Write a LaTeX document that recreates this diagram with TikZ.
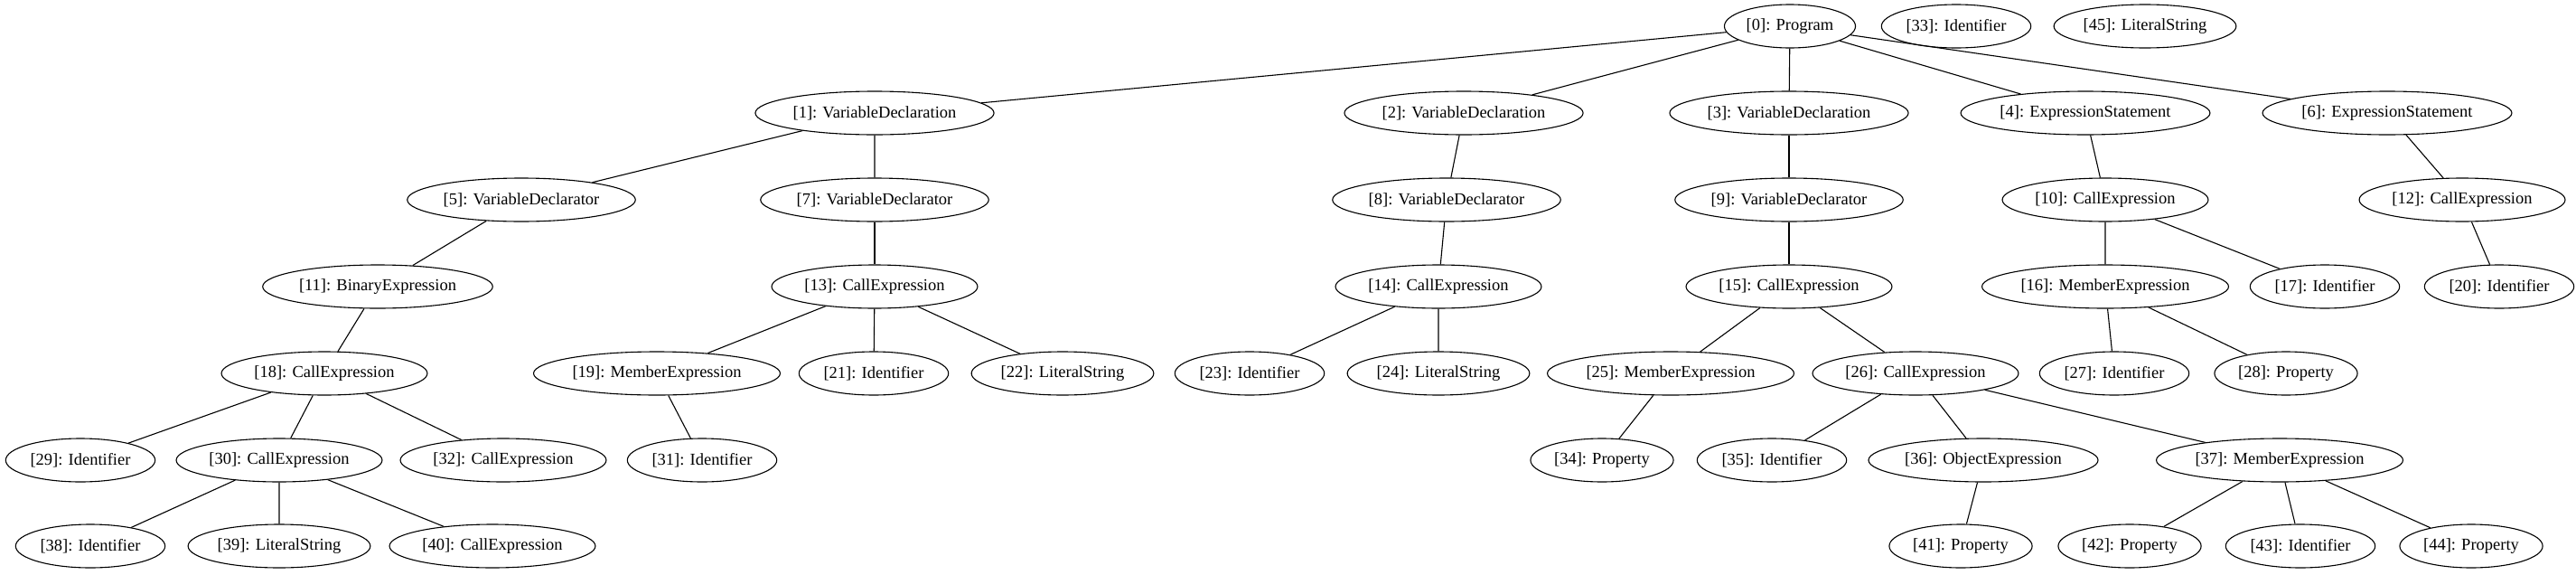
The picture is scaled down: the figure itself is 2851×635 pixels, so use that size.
\documentclass[tikz,border=0pt]{standalone}
\usepackage{fontspec}
\setmainfont{Liberation Serif}
\usetikzlibrary{shapes.geometric}

\begin{document}
\begin{tikzpicture}[
    x=1pt, y=-1pt,
    astnode/.style={ellipse, draw=black, line width=1.1pt, inner xsep=3pt, inner ysep=0pt, minimum height=48pt, font=\fontsize{18.5}{22}\selectfont},
    edge/.style={line width=1.1pt}
]
    \useasboundingbox (0,0) rectangle (2851,635);

    % ebene 0
    \node[astnode] (n0) at (1981,29) {[0]: Program};
    \node[astnode] (n33) at (2165,29) {[33]: Identifier};
    \node[astnode] (n45) at (2374,29) {[45]: LiteralString};

    % ebene 1
    \node[astnode] (n1) at (968,125) {[1]: VariableDeclaration};
    \node[astnode] (n2) at (1620,125) {[2]: VariableDeclaration};
    \node[astnode] (n3) at (1980,125) {[3]: VariableDeclaration};
    \node[astnode] (n4) at (2308,125) {[4]: ExpressionStatement};
    \node[astnode] (n6) at (2642,125) {[6]: ExpressionStatement};

    % ebene 2
    \node[astnode] (n5) at (577,221) {[5]: VariableDeclarator};
    \node[astnode] (n7) at (968,221) {[7]: VariableDeclarator};
    \node[astnode] (n8) at (1601,221) {[8]: VariableDeclarator};
    \node[astnode] (n9) at (1980,221) {[9]: VariableDeclarator};
    \node[astnode] (n10) at (2330,221) {[10]: CallExpression};
    \node[astnode] (n12) at (2725,221) {[12]: CallExpression};

    % ebene 3
    \node[astnode] (n11) at (418,317) {[11]: BinaryExpression};
    \node[astnode] (n13) at (968,317) {[13]: CallExpression};
    \node[astnode] (n14) at (1592,317) {[14]: CallExpression};
    \node[astnode] (n15) at (1980,317) {[15]: CallExpression};
    \node[astnode] (n16) at (2330,317) {[16]: MemberExpression};
    \node[astnode] (n17) at (2573,317) {[17]: Identifier};
    \node[astnode] (n20) at (2766,317) {[20]: Identifier};

    % ebene 4
    \node[astnode] (n18) at (359,413) {[18]: CallExpression};
    \node[astnode] (n19) at (727,413) {[19]: MemberExpression};
    \node[astnode] (n21) at (967,413) {[21]: Identifier};
    \node[astnode] (n22) at (1176,413) {[22]: LiteralString};
    \node[astnode] (n23) at (1383,413) {[23]: Identifier};
    \node[astnode] (n24) at (1592,413) {[24]: LiteralString};
    \node[astnode] (n25) at (1849,413) {[25]: MemberExpression};
    \node[astnode] (n26) at (2120,413) {[26]: CallExpression};
    \node[astnode] (n27) at (2340,413) {[27]: Identifier};
    \node[astnode] (n28) at (2530,413) {[28]: Property};

    % ebene 5
    \node[astnode] (n29) at (89,509) {[29]: Identifier};
    \node[astnode] (n30) at (309,509) {[30]: CallExpression};
    \node[astnode] (n32) at (557,509) {[32]: CallExpression};
    \node[astnode] (n31) at (777,509) {[31]: Identifier};
    \node[astnode] (n34) at (1773,509) {[34]: Property};
    \node[astnode] (n35) at (1961,509) {[35]: Identifier};
    \node[astnode] (n36) at (2195,509) {[36]: ObjectExpression};
    \node[astnode] (n37) at (2523,509) {[37]: MemberExpression};

    % ebene 6
    \node[astnode] (n38) at (100,604) {[38]: Identifier};
    \node[astnode] (n39) at (309,604) {[39]: LiteralString};
    \node[astnode] (n40) at (545,604) {[40]: CallExpression};
    \node[astnode] (n41) at (2170,604) {[41]: Property};
    \node[astnode] (n42) at (2357,604) {[42]: Property};
    \node[astnode] (n43) at (2546,604) {[43]: Identifier};
    \node[astnode] (n44) at (2735,604) {[44]: Property};

    % kanten
    \draw[edge] (n0) -- (n1) (n0) -- (n2) (n0) -- (n3) (n0) -- (n4) (n0) -- (n6);
    \draw[edge] (n1) -- (n5) (n1) -- (n7);
    \draw[edge] (n2) -- (n8);
    \draw[edge] (n3) -- (n9);
    \draw[edge] (n4) -- (n10);
    \draw[edge] (n6) -- (n12);
    \draw[edge] (n5) -- (n11);
    \draw[edge] (n7) -- (n13);
    \draw[edge] (n8) -- (n14);
    \draw[edge] (n9) -- (n15);
    \draw[edge] (n10) -- (n16) (n10) -- (n17);
    \draw[edge] (n12) -- (n20);
    \draw[edge] (n11) -- (n18);
    \draw[edge] (n13) -- (n19) (n13) -- (n21) (n13) -- (n22);
    \draw[edge] (n14) -- (n23) (n14) -- (n24);
    \draw[edge] (n15) -- (n25) (n15) -- (n26);
    \draw[edge] (n16) -- (n27) (n16) -- (n28);
    \draw[edge] (n18) -- (n29) (n18) -- (n30) (n18) -- (n32);
    \draw[edge] (n19) -- (n31);
    \draw[edge] (n25) -- (n34);
    \draw[edge] (n26) -- (n35) (n26) -- (n36) (n26) -- (n37);
    \draw[edge] (n30) -- (n38) (n30) -- (n39) (n30) -- (n40);
    \draw[edge] (n36) -- (n41);
    \draw[edge] (n37) -- (n42) (n37) -- (n43) (n37) -- (n44);
\end{tikzpicture}
\end{document}
